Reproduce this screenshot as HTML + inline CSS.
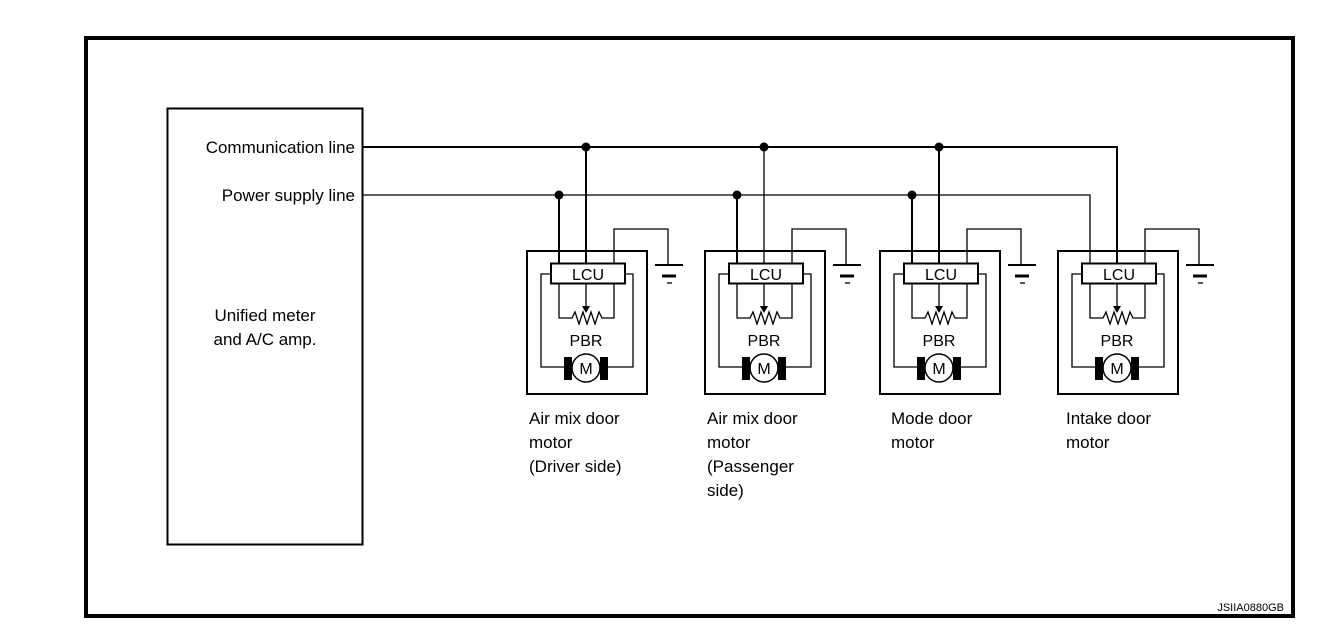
<!DOCTYPE html>
<html><head><style>html,body{margin:0;padding:0;background:#fff}svg{display:block}</style></head>
<body>
<svg width="1328" height="624" xmlns="http://www.w3.org/2000/svg" font-family="Liberation Sans, Arial, sans-serif" fill="none" stroke="#000">
<rect x="86" y="38" width="1207" height="578" stroke-width="4"/>
<rect x="167.5" y="108.5" width="195" height="436" stroke-width="2"/>
<g fill="#000" stroke="none" font-size="17">
<text x="355" y="153" text-anchor="end">Communication line</text>
<text x="355" y="201" text-anchor="end">Power supply line</text>
<text x="265" y="321" text-anchor="middle">Unified meter</text>
<text x="265" y="345" text-anchor="middle">and A/C amp.</text>
<text x="529" y="424">Air mix door</text><text x="529" y="448">motor</text><text x="529" y="472">(Driver side)</text>
<text x="707" y="424">Air mix door</text><text x="707" y="448">motor</text><text x="707" y="472">(Passenger</text><text x="707" y="496">side)</text>
<text x="891" y="424">Mode door</text><text x="891" y="448">motor</text>
<text x="1066" y="424">Intake door</text><text x="1066" y="448">motor</text>
<text x="1284" y="611" text-anchor="end" font-size="11">JSIIA0880GB</text>
</g>
<polyline points="363,147 1117,147 1117,264" stroke-width="2"/>
<polyline points="363,195 1090,195 1090,264" stroke-width="1.3"/>
<g fill="#000" stroke="none">
<circle cx="586" cy="147" r="4.5"/><circle cx="764" cy="147" r="4.5"/><circle cx="939" cy="147" r="4.5"/>
<circle cx="559" cy="195" r="4.5"/><circle cx="737" cy="195" r="4.5"/><circle cx="912" cy="195" r="4.5"/>
</g>
<g>
<line x1="586" y1="147" x2="586" y2="264" stroke-width="2"/>
<line x1="559" y1="195" x2="559" y2="264" stroke-width="2"/>
</g>
<g transform="translate(178,0)"><line x1="586" y1="147" x2="586" y2="264" stroke-width="1.3"/><line x1="559" y1="195" x2="559" y2="264" stroke-width="2"/></g>
<g transform="translate(353,0)"><line x1="586" y1="147" x2="586" y2="264" stroke-width="2"/><line x1="559" y1="195" x2="559" y2="264" stroke-width="2"/></g>
<g>
<rect x="527" y="251" width="120" height="143" stroke-width="2"/>
<polyline points="614,264 614,229 668,229 668,265" stroke-width="1.3"/>
<line x1="655" y1="265" x2="683" y2="265" stroke-width="2"/><line x1="662" y1="276" x2="676" y2="276" stroke-width="3"/><line x1="667" y1="283" x2="672" y2="283" stroke-width="1.3"/>
<rect x="551" y="263.5" width="74" height="20" fill="#fff" stroke-width="2"/>
<text x="588" y="280" font-size="16" fill="#000" stroke="none" text-anchor="middle">LCU</text>
<polyline points="551,274 541,274 541,367 566,367" stroke-width="1.3"/>
<polyline points="625,274 633,274 633,367 606,367" stroke-width="1.3"/>
<polyline points="559,284 559,318 572,318 575,312 579,324 583,312 587,324 591,312 595,324 599,312 602,318 614,318 614,284" stroke-width="1.3"/>
<line x1="586" y1="284" x2="586" y2="306" stroke-width="1.3"/><polygon points="582,306 590,306 586,313" fill="#000" stroke="none"/>
<text x="586" y="346" font-size="16" fill="#000" stroke="none" text-anchor="middle">PBR</text>
<rect x="564" y="357" width="8" height="23" fill="#000" stroke="none"/><rect x="600" y="357" width="8" height="23" fill="#000" stroke="none"/>
<circle cx="586" cy="368" r="14" fill="#fff" stroke-width="1.5"/>
<text x="586" y="374" font-size="16" fill="#000" stroke="none" text-anchor="middle">M</text>
</g>
<g transform="translate(178,0)">
<rect x="527" y="251" width="120" height="143" stroke-width="2"/>
<polyline points="614,264 614,229 668,229 668,265" stroke-width="1.3"/>
<line x1="655" y1="265" x2="683" y2="265" stroke-width="2"/><line x1="662" y1="276" x2="676" y2="276" stroke-width="3"/><line x1="667" y1="283" x2="672" y2="283" stroke-width="1.3"/>
<rect x="551" y="263.5" width="74" height="20" fill="#fff" stroke-width="2"/>
<text x="588" y="280" font-size="16" fill="#000" stroke="none" text-anchor="middle">LCU</text>
<polyline points="551,274 541,274 541,367 566,367" stroke-width="1.3"/>
<polyline points="625,274 633,274 633,367 606,367" stroke-width="1.3"/>
<polyline points="559,284 559,318 572,318 575,312 579,324 583,312 587,324 591,312 595,324 599,312 602,318 614,318 614,284" stroke-width="1.3"/>
<line x1="586" y1="284" x2="586" y2="306" stroke-width="1.3"/><polygon points="582,306 590,306 586,313" fill="#000" stroke="none"/>
<text x="586" y="346" font-size="16" fill="#000" stroke="none" text-anchor="middle">PBR</text>
<rect x="564" y="357" width="8" height="23" fill="#000" stroke="none"/><rect x="600" y="357" width="8" height="23" fill="#000" stroke="none"/>
<circle cx="586" cy="368" r="14" fill="#fff" stroke-width="1.5"/>
<text x="586" y="374" font-size="16" fill="#000" stroke="none" text-anchor="middle">M</text>
</g>
<g transform="translate(353,0)">
<rect x="527" y="251" width="120" height="143" stroke-width="2"/>
<polyline points="614,264 614,229 668,229 668,265" stroke-width="1.3"/>
<line x1="655" y1="265" x2="683" y2="265" stroke-width="2"/><line x1="662" y1="276" x2="676" y2="276" stroke-width="3"/><line x1="667" y1="283" x2="672" y2="283" stroke-width="1.3"/>
<rect x="551" y="263.5" width="74" height="20" fill="#fff" stroke-width="2"/>
<text x="588" y="280" font-size="16" fill="#000" stroke="none" text-anchor="middle">LCU</text>
<polyline points="551,274 541,274 541,367 566,367" stroke-width="1.3"/>
<polyline points="625,274 633,274 633,367 606,367" stroke-width="1.3"/>
<polyline points="559,284 559,318 572,318 575,312 579,324 583,312 587,324 591,312 595,324 599,312 602,318 614,318 614,284" stroke-width="1.3"/>
<line x1="586" y1="284" x2="586" y2="306" stroke-width="1.3"/><polygon points="582,306 590,306 586,313" fill="#000" stroke="none"/>
<text x="586" y="346" font-size="16" fill="#000" stroke="none" text-anchor="middle">PBR</text>
<rect x="564" y="357" width="8" height="23" fill="#000" stroke="none"/><rect x="600" y="357" width="8" height="23" fill="#000" stroke="none"/>
<circle cx="586" cy="368" r="14" fill="#fff" stroke-width="1.5"/>
<text x="586" y="374" font-size="16" fill="#000" stroke="none" text-anchor="middle">M</text>
</g>
<g transform="translate(531,0)">
<rect x="527" y="251" width="120" height="143" stroke-width="2"/>
<polyline points="614,264 614,229 668,229 668,265" stroke-width="1.3"/>
<line x1="655" y1="265" x2="683" y2="265" stroke-width="2"/><line x1="662" y1="276" x2="676" y2="276" stroke-width="3"/><line x1="667" y1="283" x2="672" y2="283" stroke-width="1.3"/>
<rect x="551" y="263.5" width="74" height="20" fill="#fff" stroke-width="2"/>
<text x="588" y="280" font-size="16" fill="#000" stroke="none" text-anchor="middle">LCU</text>
<polyline points="551,274 541,274 541,367 566,367" stroke-width="1.3"/>
<polyline points="625,274 633,274 633,367 606,367" stroke-width="1.3"/>
<polyline points="559,284 559,318 572,318 575,312 579,324 583,312 587,324 591,312 595,324 599,312 602,318 614,318 614,284" stroke-width="1.3"/>
<line x1="586" y1="284" x2="586" y2="306" stroke-width="1.3"/><polygon points="582,306 590,306 586,313" fill="#000" stroke="none"/>
<text x="586" y="346" font-size="16" fill="#000" stroke="none" text-anchor="middle">PBR</text>
<rect x="564" y="357" width="8" height="23" fill="#000" stroke="none"/><rect x="600" y="357" width="8" height="23" fill="#000" stroke="none"/>
<circle cx="586" cy="368" r="14" fill="#fff" stroke-width="1.5"/>
<text x="586" y="374" font-size="16" fill="#000" stroke="none" text-anchor="middle">M</text>
</g>
</svg>
</body></html>
